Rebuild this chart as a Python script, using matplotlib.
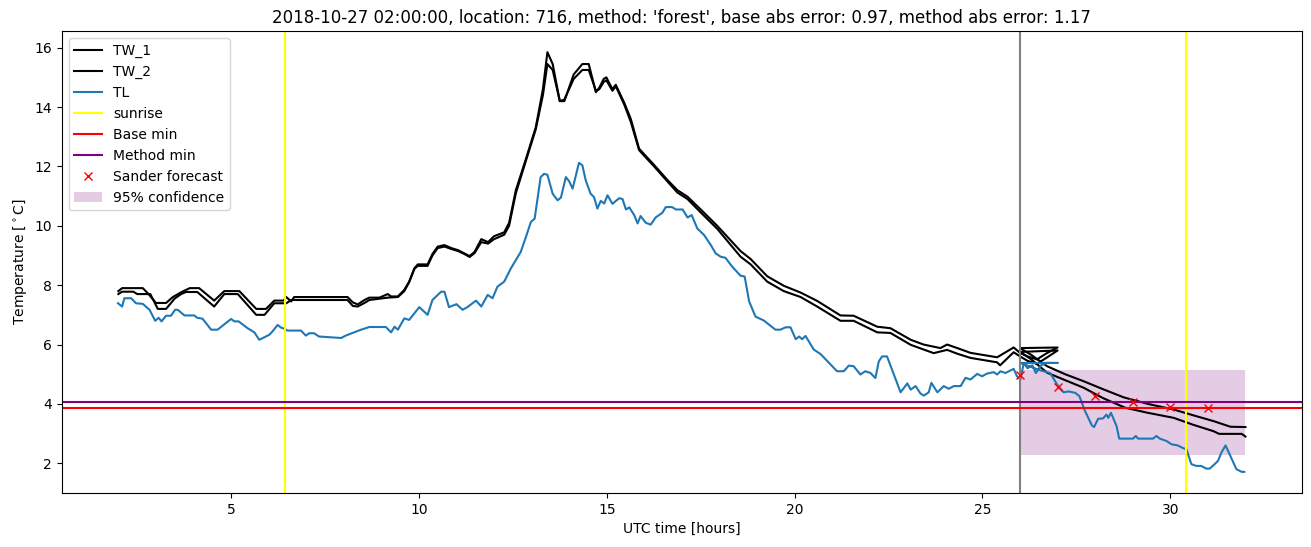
import matplotlib
matplotlib.use("Agg")
import matplotlib.pyplot as plt

# TW_1: observed up to 27h, then forecast restarting at 26h
tw1_hours = [2.0, 2.1, 2.65, 2.79, 3.0, 3.27, 3.45, 3.67, 3.9, 4.15, 4.55, 4.82, 5.22, 5.67, 5.93,
             6.15, 6.4, 6.47, 6.6, 6.68, 8.1, 8.24, 8.37, 8.55, 8.68, 8.95, 9.17, 9.26, 9.44, 9.61,
             9.74, 9.88, 9.97, 10.23, 10.36, 10.5, 10.68, 10.86, 11.04, 11.21, 11.35, 11.48, 11.66,
             11.84, 12.0, 12.27, 12.4, 12.58, 12.85, 13.11, 13.3, 13.42, 13.56, 13.75, 13.87, 14.12,
             14.35, 14.52, 14.71, 14.8, 14.92, 14.99, 15.15, 15.24, 15.46, 15.64, 15.86, 16.04,
             16.26, 16.61, 16.88, 17.15, 17.5, 17.94, 18.56, 18.83, 19.27, 19.71, 20.16, 20.6,
             21.22, 21.57, 22.2, 22.55, 23.09, 23.43, 23.88, 24.06, 24.33, 24.68, 25.39, 25.83,
             26.0, 26.2, 26.45, 26.7, 27.0,
             26.0, 26.3, 26.72, 27.2, 27.7, 28.2, 28.76, 29.4, 30.09, 30.6, 31.15, 31.6, 32.0]
tw1_temp = [7.8, 7.9, 7.9, 7.72, 7.4, 7.4, 7.6, 7.76, 7.9, 7.9, 7.48, 7.8, 7.8, 7.2, 7.2,
            7.48, 7.48, 7.6, 7.45, 7.6, 7.6, 7.42, 7.35, 7.5, 7.58, 7.58, 7.7, 7.62, 7.62, 7.84,
            8.12, 8.57, 8.7, 8.7, 9.05, 9.3, 9.35, 9.25, 9.18, 9.07, 8.98, 9.12, 9.55,
            9.45, 9.65, 9.78, 10.1, 11.2, 12.26, 13.32, 14.6, 15.85, 15.45, 14.2, 14.2, 15.1,
            15.45, 15.45, 14.5, 14.65, 14.95, 15.0, 14.6, 14.75, 14.16, 13.6, 12.6, 12.35,
            12.05, 11.55, 11.2, 10.98, 10.55, 10.0, 9.15, 8.88, 8.3, 7.98, 7.75, 7.47,
            6.98, 6.97, 6.6, 6.55, 6.16, 6.0, 5.88, 6.0, 5.88, 5.72, 5.57, 5.9,
            5.72, 5.6, 5.5, 5.7, 5.9,
            5.88, 5.65, 5.27, 5.0, 4.76, 4.5, 4.22, 4.0, 3.81, 3.62, 3.42, 3.23, 3.22]

tw2_hours = [2.0, 2.1, 2.4, 2.5, 2.85, 3.05, 3.27, 3.5, 3.67, 3.8, 4.1, 4.55, 4.82, 5.18, 5.67,
             5.89, 6.15, 6.47, 6.6, 8.1, 8.24, 8.37, 8.55, 8.68, 9.17, 9.44, 9.61, 9.74, 9.88,
             9.97, 10.23, 10.36, 10.5, 10.68, 10.86, 11.04, 11.21, 11.35, 11.48, 11.66, 11.84,
             12.0, 12.27, 12.4, 12.58, 12.85, 13.11, 13.3, 13.42, 13.56, 13.75, 13.87, 14.12,
             14.35, 14.52, 14.71, 14.8, 14.92, 14.99, 15.15, 15.24, 15.46, 15.64, 15.86, 16.04,
             16.26, 16.61, 16.88, 17.15, 17.5, 17.94, 18.56, 18.83, 19.27, 19.71, 20.16, 20.6,
             21.22, 21.57, 22.2, 22.55, 23.09, 23.7, 24.06, 24.33, 24.68, 25.39, 25.47, 25.83,
             26.0, 26.2, 26.45, 26.7, 27.0,
             26.0, 26.3, 26.72, 27.2, 27.7, 28.2, 28.8, 29.4, 30.09, 30.6, 31.15, 31.3, 31.9, 32.0]
tw2_temp = [7.7, 7.78, 7.78, 7.7, 7.7, 7.2, 7.2, 7.55, 7.7, 7.77, 7.77, 7.28, 7.7, 7.7, 7.0,
            7.0, 7.39, 7.39, 7.5, 7.5, 7.3, 7.28, 7.4, 7.5, 7.58, 7.6, 7.8, 8.1, 8.55,
            8.65, 8.65, 9.0, 9.25, 9.3, 9.22, 9.15, 9.05, 8.95, 9.08, 9.45, 9.4,
            9.55, 9.7, 10.0, 11.1, 12.2, 13.25, 14.4, 15.45, 15.25, 14.2, 14.25, 14.95,
            15.25, 15.25, 14.55, 14.6, 14.85, 14.9, 14.55, 14.7, 14.1, 13.5, 12.55, 12.3,
            12.0, 11.5, 11.12, 10.9, 10.45, 9.9, 8.96, 8.7, 8.12, 7.8, 7.6, 7.28,
            6.8, 6.8, 6.41, 6.39, 5.99, 5.71, 5.82, 5.69, 5.55, 5.4, 5.3, 5.74,
            5.6, 5.45, 5.35, 5.55, 5.8,
            5.75, 5.5, 5.05, 4.8, 4.54, 4.2, 3.87, 3.7, 3.53, 3.3, 3.08, 2.99, 2.99, 2.9]

tl_hours = [1.99, 2.1, 2.16, 2.34, 2.47, 2.65, 2.83, 2.98, 3.07, 3.15, 3.27, 3.4, 3.51, 3.58, 3.76,
            4.02, 4.1, 4.24, 4.47, 4.64, 5.0, 5.09, 5.2, 5.44, 5.62, 5.75, 5.89, 6.02, 6.1, 6.24,
            6.33, 6.42, 6.5, 6.86, 6.99, 7.08, 7.21, 7.34, 7.93, 8.05, 8.46, 8.68, 9.12, 9.26,
            9.35, 9.44, 9.61, 9.74, 10.01, 10.23, 10.36, 10.59, 10.68, 10.8, 11.0, 11.16, 11.29,
            11.52, 11.66, 11.83, 11.96, 12.09, 12.27, 12.45, 12.71, 12.85, 12.98, 13.08, 13.24,
            13.33, 13.42, 13.56, 13.69, 13.78, 13.91, 14.0, 14.09, 14.26, 14.35, 14.44, 14.57,
            14.66, 14.75, 14.84, 14.93, 15.02, 15.15, 15.33, 15.42, 15.51, 15.6, 15.73, 15.82,
            15.9, 16.04, 16.17, 16.3, 16.48, 16.57, 16.74, 16.84, 17.02, 17.15, 17.26, 17.41,
            17.59, 17.77, 17.9, 18.03, 18.16, 18.34, 18.56, 18.67, 18.79, 18.96, 19.18, 19.49,
            19.62, 19.76, 19.89, 20.03, 20.12, 20.2, 20.29, 20.51, 20.69, 21.13, 21.31, 21.44,
            21.57, 21.75, 21.88, 22.02, 22.15, 22.24, 22.33, 22.46, 22.82, 23.0, 23.09, 23.22,
            23.35, 23.44, 23.57, 23.64, 23.8, 23.97, 24.1, 24.24, 24.42, 24.55, 24.68, 24.86,
            24.99, 25.12, 25.3, 25.39, 25.48, 25.61, 25.83, 25.92, 26.01, 26.1, 26.2, 26.33,
            26.42, 26.56, 26.7, 27.0,
            26.0, 26.54, 26.8, 26.99, 27.16, 27.3, 27.47, 27.58, 27.73, 27.91, 27.97, 28.08,
            28.21, 28.3, 28.35, 28.42, 28.57, 28.64, 29.01, 29.08, 29.14, 29.54, 29.63, 29.72,
            29.9, 30.03, 30.2, 30.34, 30.43, 30.56, 30.69, 30.82, 30.96, 31.05, 31.18, 31.27,
            31.36, 31.47, 31.62, 31.76, 31.9, 31.97]
tl_temp = [7.39, 7.28, 7.56, 7.56, 7.39, 7.37, 7.17, 6.8, 6.9, 6.78, 6.97, 6.97, 7.17, 7.17, 6.98,
           6.98, 6.9, 6.87, 6.5, 6.5, 6.86, 6.78, 6.78, 6.55, 6.41, 6.16, 6.25, 6.33, 6.44, 6.66,
           6.57, 6.53, 6.47, 6.47, 6.3, 6.38, 6.38, 6.27, 6.22, 6.3, 6.5, 6.59, 6.59, 6.41,
           6.6, 6.5, 6.88, 6.83, 7.26, 7.0, 7.5, 7.78, 7.78, 7.26, 7.36, 7.17, 7.26,
           7.48, 7.28, 7.67, 7.56, 7.95, 8.12, 8.57, 9.12, 9.63, 10.13, 10.24, 11.64,
           11.75, 11.72, 11.08, 10.86, 10.95, 11.64, 11.5, 11.25, 12.12, 12.04, 11.53, 11.08,
           10.97, 10.58, 10.84, 10.75, 11.03, 10.74, 10.93, 10.9, 10.55, 10.62, 10.36, 10.08,
           10.33, 10.1, 10.04, 10.28, 10.44, 10.63, 10.63, 10.55, 10.55, 10.28, 10.36, 9.91,
           9.69, 9.35, 9.07, 8.96, 8.92, 8.62, 8.32, 8.29, 7.45, 6.94, 6.81, 6.5,
           6.5, 6.58, 6.58, 6.18, 6.27, 6.18, 6.29, 5.83, 5.68, 5.1, 5.1, 5.29,
           5.27, 4.99, 5.1, 5.04, 4.87, 5.43, 5.6, 5.6, 4.39, 4.69, 4.48, 4.6,
           4.35, 4.28, 4.39, 4.71, 4.39, 4.6, 4.51, 4.6, 4.6, 4.88, 4.82, 5.01,
           4.93, 5.02, 5.07, 4.99, 5.1, 5.04, 5.18, 4.93, 4.82, 5.38, 5.2, 5.3,
           5.04, 5.3, 5.38, 5.38,
           5.38, 5.13, 5.04, 4.65, 4.39, 4.42, 4.37, 4.26, 3.76, 3.28, 3.22, 3.5,
           3.51, 3.64, 3.53, 3.7, 3.25, 2.83, 2.83, 2.92, 2.83, 2.83, 2.92, 2.83,
           2.75, 2.64, 2.6, 2.51, 2.47, 1.97, 1.91, 1.91, 1.82, 1.82, 1.97, 2.08,
           2.36, 2.6, 2.19, 1.8, 1.71, 1.71]

sunrise = [6.44, 30.43]
forecast_start = 26.0
base_min = 3.86
method_min = 4.07
sander_hours = [26, 27, 28, 29, 30, 31]
sander_temp = [4.97, 4.58, 4.25, 4.07, 3.9, 3.85]
conf_hours = [26, 32]
conf_low = 2.27
conf_high = 5.13

title = "2018-10-27 02:00:00, location: 716, method: 'forest', base abs error: 0.97, method abs error: 1.17"

fig, ax = plt.subplots(figsize=(13.11, 5.47), dpi=100)
fig.subplots_adjust(left=0.047, right=0.993, top=0.943, bottom=0.099)

ax.plot(tw1_hours, tw1_temp, color='black', label='TW_1')
ax.plot(tw2_hours, tw2_temp, color='black', label='TW_2')
ax.plot(tl_hours, tl_temp, color='#1f77b4', label='TL')
ax.axvline(sunrise[0], color='yellow', label='sunrise')
ax.axvline(sunrise[1], color='yellow')
ax.axvline(forecast_start, color='gray')
ax.axhline(base_min, color='red', label='Base min')
ax.axhline(method_min, color='purple', label='Method min')
ax.plot(sander_hours, sander_temp, 'x', color='red', label='Sander forecast')
ax.fill_between(conf_hours, conf_low, conf_high, color='purple', alpha=0.2, linewidth=0,
                label='95% confidence')

ax.set_title(title, fontsize=12)
ax.set_xlabel('UTC time [hours]')
ax.set_ylabel(r'Temperature [$^\circ$C]')
ax.legend(loc='upper left')

fig.savefig('out.png')
